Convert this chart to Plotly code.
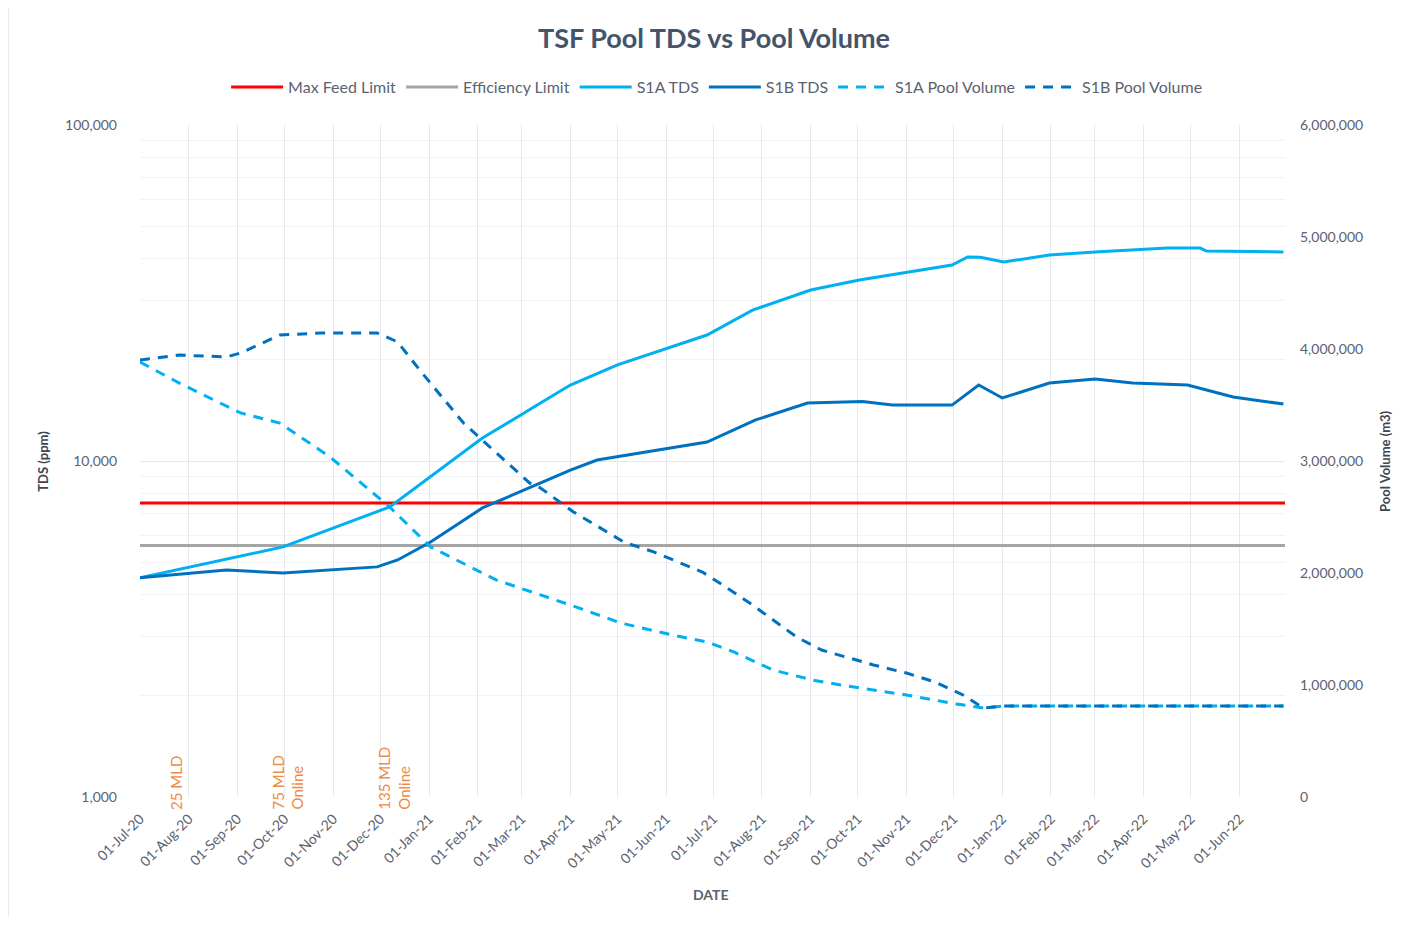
import plotly.graph_objects as go

# ---------------- data ----------------
start_date = "2020-07-01"
end_date = "2022-06-30"

max_feed_limit = 7500
efficiency_limit = 5600

s1a_tds_dates = ["2020-07-01", "2020-09-30", "2020-12-07", "2021-02-04", "2021-03-13", "2021-04-01",
                 "2021-05-01", "2021-06-27", "2021-07-26", "2021-09-01", "2021-10-02", "2021-11-02",
                 "2021-11-30", "2021-12-10", "2021-12-18", "2022-01-02", "2022-01-31", "2022-03-01",
                 "2022-04-16", "2022-05-07", "2022-05-11", "2022-06-29"]
s1a_tds = [4490, 5550, 7300, 11700, 14880, 16830,
           19330, 23710, 28130, 32280, 34570, 36520,
           38290, 40480, 40400, 39100, 41040, 41880,
           43030, 43030, 42160, 41880]

s1b_tds_dates = ["2020-07-01", "2020-08-25", "2020-09-30", "2020-11-29", "2020-12-12", "2021-01-02",
                 "2021-02-04", "2021-04-01", "2021-04-18", "2021-06-27", "2021-07-28", "2021-08-30",
                 "2021-10-04", "2021-10-23", "2021-11-30", "2021-12-17", "2022-01-01", "2022-01-31",
                 "2022-03-01", "2022-03-25", "2022-04-29", "2022-05-28", "2022-06-29"]
s1b_tds = [4490, 4740, 4640, 4840, 5075, 5740,
           7250, 9400, 10070, 11390, 13250, 14880,
           15030, 14670, 14670, 16830, 15400, 17070,
           17540, 17070, 16830, 15500, 14780]

s1a_vol_dates = ["2020-07-01", "2020-07-26", "2020-09-03", "2020-09-28", "2020-10-30", "2020-12-07",
                 "2021-01-02", "2021-02-13", "2021-03-13", "2021-04-03", "2021-05-03", "2021-06-05",
                 "2021-06-27", "2021-07-14", "2021-08-08", "2021-09-02", "2021-09-20", "2021-10-11",
                 "2021-11-01", "2021-12-03", "2021-12-20", "2022-01-01", "2022-06-29"]
s1a_vol = [3884000, 3696000, 3429000, 3339000, 3036000, 2589000,
           2232000, 1937000, 1804000, 1705000, 1554000, 1446000,
           1384000, 1295000, 1134000, 1045000, 1000000, 955000,
           911000, 830000, 795000, 812000, 812000]

s1b_vol_dates = ["2020-07-01", "2020-07-26", "2020-08-25", "2020-09-03", "2020-09-28", "2020-10-24",
                 "2020-11-29", "2020-12-12", "2020-12-26", "2021-01-23", "2021-03-06", "2021-03-13",
                 "2021-04-03", "2021-05-05", "2021-05-24", "2021-06-24", "2021-07-05", "2021-07-26",
                 "2021-08-23", "2021-09-08", "2021-10-11", "2021-11-01", "2021-11-19", "2021-12-07",
                 "2021-12-20", "2022-01-01", "2022-06-29"]
s1b_vol = [3902000, 3946000, 3929000, 3964000, 4125000, 4143000,
           4143000, 4063000, 3813000, 3339000, 2804000, 2759000,
           2545000, 2277000, 2188000, 2009000, 1911000, 1714000,
           1429000, 1312000, 1179000, 1107000, 1027000, 911000,
           795000, 812000, 812000]

events = [("2020-07-24", "25 MLD"), ("2020-10-03", "75 MLD<br>Online"), ("2020-12-10", "135 MLD<br>Online")]

left_ticks = [1000, 10000, 100000]
minor_ticks = [k * 10 ** e for e in (3, 4) for k in range(2, 10)]

# ---------------- styles ----------------
RED = "#FF0000"
GRAY = "#A5A5A5"
LBLUE = "#00B0F0"
DBLUE = "#0070C0"
GRID = "#E4E7EF"
TXT = "#5B6270"
FONT = "Lato"

fig = go.Figure()
fig.add_trace(go.Scatter(x=[start_date, end_date], y=[max_feed_limit, max_feed_limit], name="Max Feed Limit",
                         mode="lines", line=dict(color=RED, width=3)))
fig.add_trace(go.Scatter(x=[start_date, end_date], y=[efficiency_limit, efficiency_limit], name="Efficiency Limit",
                         mode="lines", line=dict(color=GRAY, width=3)))
fig.add_trace(go.Scatter(x=s1a_tds_dates, y=s1a_tds, name="S1A TDS", mode="lines",
                         line=dict(color=LBLUE, width=3)))
fig.add_trace(go.Scatter(x=s1b_tds_dates, y=s1b_tds, name="S1B TDS", mode="lines",
                         line=dict(color=DBLUE, width=3)))
fig.add_trace(go.Scatter(x=s1a_vol_dates, y=s1a_vol, name="S1A Pool Volume", mode="lines", yaxis="y2",
                         line=dict(color=LBLUE, width=3, dash="10px,8px")))
fig.add_trace(go.Scatter(x=s1b_vol_dates, y=s1b_vol, name="S1B Pool Volume", mode="lines", yaxis="y2",
                         line=dict(color=DBLUE, width=3, dash="10px,8px")))

annotations = []
for d, t in events:
    annotations.append(dict(x=d, xref="x", y=-0.022, yref="paper", text=t, textangle=-90,
                            showarrow=False, align="left", xanchor="center", yanchor="bottom",
                            font=dict(family=FONT, size=15, color="#EE8A4A")))
annotations += [
    dict(x=-0.0937, y=0.5, xref="paper", yref="paper", text="<b>TDS (ppm)</b>", textangle=-90,
         showarrow=False, font=dict(family=FONT, size=13, color="#404552")),
    dict(x=1.096, y=0.5, xref="paper", yref="paper", text="<b>Pool Volume (m3)</b>", textangle=-90,
         showarrow=False, font=dict(family=FONT, size=13, color="#404552")),
    dict(x=0.4987, y=-0.161, xref="paper", yref="paper", text="<b>DATE</b>",
         showarrow=False, font=dict(family=FONT, size=14, color="#5B6270")),
]

fig.update_layout(
    width=1394, height=909,
    margin=dict(l=132, r=117, t=117, b=120),
    paper_bgcolor="white", plot_bgcolor="white",
    font=dict(family=FONT, color=TXT),
    title=dict(text="<b>TSF Pool TDS vs Pool Volume</b>", x=0.5065, xanchor="center", y=0.966, yanchor="middle",
               font=dict(family=FONT, size=27, color="#44546A")),
    legend=dict(orientation="h", x=0.504, xanchor="center", y=1.0565, yanchor="middle",
                font=dict(family=FONT, size=16, color=TXT), itemwidth=52, bgcolor="rgba(0,0,0,0)"),
    xaxis=dict(type="date", range=[start_date, end_date], tick0=start_date, dtick="M1",
               tickformat="%d-%b-%y", tickangle=-45, showgrid=True, gridcolor=GRID, gridwidth=1,
               zeroline=False, showline=False, ticks="", ticklabelstandoff=10,
               tickfont=dict(family=FONT, size=14, color=TXT)),
    yaxis=dict(type="log", range=[3, 5], tickvals=left_ticks, tickformat=",", showgrid=True,
               gridcolor=GRID, gridwidth=1, zeroline=False, showline=False, ticks="",
               ticklabelstandoff=22,
               minor=dict(tickvals=minor_ticks, showgrid=True, gridcolor="#F1F3F7", gridwidth=1, ticks=""),
               tickfont=dict(family=FONT, size=14, color=TXT)),
    yaxis2=dict(overlaying="y", side="right", range=[0, 6000000], dtick=1000000, tickformat=",",
                showgrid=False, zeroline=False, showline=False, ticks="", ticklabelstandoff=14,
                tickfont=dict(family=FONT, size=14, color=TXT)),
    annotations=annotations,
    shapes=[dict(type="rect", xref="paper", yref="paper", x0=-0.1153, x1=1.1048, y0=-0.186, y1=1.1786,
                 line=dict(color="#D9D9D9", width=1), fillcolor="rgba(0,0,0,0)", layer="below")],
    showlegend=True,
)

fig.write_html("out.html")
